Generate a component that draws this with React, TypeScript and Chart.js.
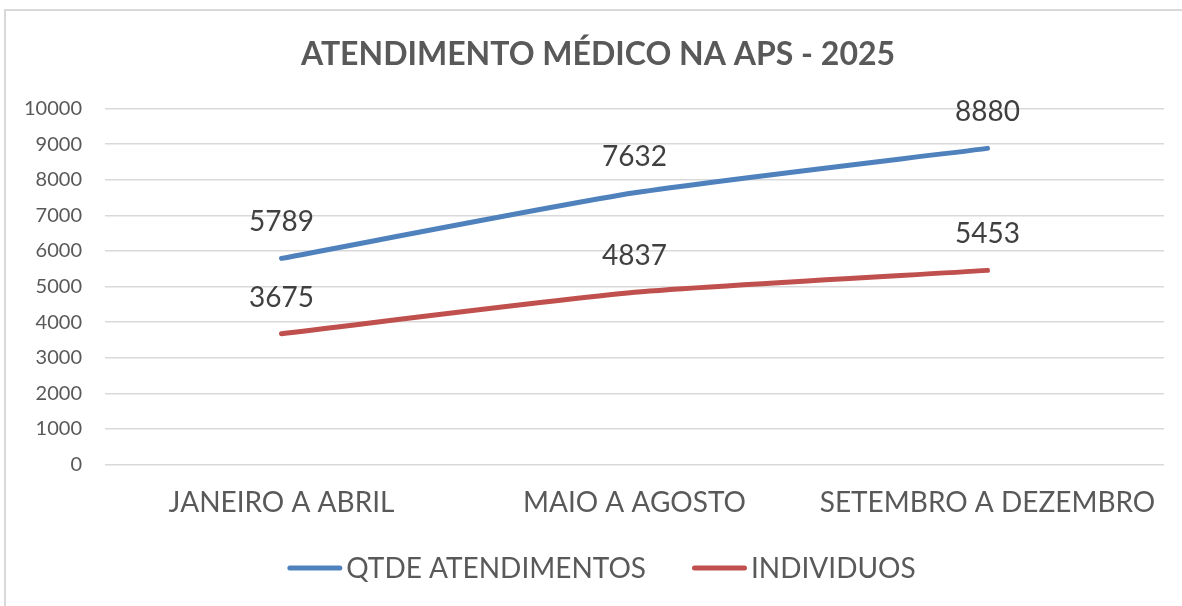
import React, { useEffect, useRef } from "react";
import { Chart, registerables } from "chart.js";

Chart.register(...registerables);

const title = "ATENDIMENTO MÉDICO NA APS - 2025";
const categories = ["JANEIRO A ABRIL", "MAIO A AGOSTO", "SETEMBRO A DEZEMBRO"];
const seriesNames = ["QTDE ATENDIMENTOS", "INDIVIDUOS"];
const atendimentos = [5789, 7632, 8880];
const individuos = [3675, 4837, 5453];
const yMin = 0;
const yMax = 10000;
const yStep = 1000;

const FONT = "Lato, 'Open Sans', 'Noto Sans', sans-serif";
const BLUE = "#4F81BD";
const RED = "#C0504D";
const TEXT = "#595959";
const GRID = "#D9D9D9";

const decorPlugin = {
  id: "decor",
  beforeDraw(chart: any) {
    const ctx = chart.ctx;
    ctx.save();
    ctx.fillStyle = "#ffffff";
    ctx.fillRect(0, 0, chart.width, chart.height);
    ctx.strokeStyle = GRID;
    ctx.lineWidth = 2;
    ctx.beginPath();
    ctx.moveTo(5, chart.height + 2);
    ctx.lineTo(5, 10);
    ctx.lineTo(chart.width + 2, 10);
    ctx.stroke();
    ctx.restore();
  },
  afterDatasetsDraw(chart: any) {
    const ctx = chart.ctx;
    ctx.save();
    ctx.font = `28px ${FONT}`;
    ctx.fillStyle = "#404040";
    ctx.textAlign = "center";
    ctx.textBaseline = "alphabetic";
    chart.data.datasets.forEach((ds: any, i: number) => {
      const meta = chart.getDatasetMeta(i);
      meta.data.forEach((pt: any, j: number) => {
        ctx.fillText(String(ds.data[j]), pt.x, pt.y - 27);
      });
    });
    ctx.restore();
  },
  afterDraw(chart: any) {
    const ctx = chart.ctx;
    ctx.save();
    // title
    ctx.font = `bold 32px ${FONT}`;
    ctx.fillStyle = TEXT;
    ctx.textAlign = "center";
    ctx.textBaseline = "alphabetic";
    ctx.fillText(title, 598, 65);
    // legend
    ctx.font = `28px ${FONT}`;
    const lineLen = 55;
    const gapText = 4;
    const gapItems = 46;
    const widths = chart.data.datasets.map((d: any) => ctx.measureText(d.label).width);
    const total = widths.reduce((a: number, w: number) => a + lineLen + gapText + w, 0) + gapItems * (widths.length - 1);
    let x = 601.5 - total / 2;
    const y = 568;
    chart.data.datasets.forEach((d: any, i: number) => {
      ctx.strokeStyle = d.borderColor;
      ctx.lineWidth = 5;
      ctx.lineCap = "round";
      ctx.beginPath();
      ctx.moveTo(x + 2.5, y);
      ctx.lineTo(x + lineLen - 2.5, y);
      ctx.stroke();
      ctx.fillStyle = TEXT;
      ctx.textAlign = "left";
      ctx.textBaseline = "middle";
      ctx.fillText(d.label, x + lineLen + gapText, y + 1);
      x += lineLen + gapText + widths[i] + gapItems;
    });
    ctx.restore();
  },
};

export default function App() {
  const ref = useRef<HTMLCanvasElement | null>(null);
  useEffect(() => {
    if (!ref.current) return;
    const chart = new Chart(ref.current, {
      type: "line",
      data: {
        labels: categories,
        datasets: [
          {
            label: seriesNames[0],
            data: atendimentos,
            borderColor: BLUE,
            backgroundColor: BLUE,
            borderWidth: 5,
            borderCapStyle: "round",
            pointRadius: 0,
            tension: 0.2,
          },
          {
            label: seriesNames[1],
            data: individuos,
            borderColor: RED,
            backgroundColor: RED,
            borderWidth: 5,
            borderCapStyle: "round",
            pointRadius: 0,
            tension: 0.2,
          },
        ],
      },
      options: {
        responsive: false,
        animation: false,
        layout: { padding: { top: 108.5, right: 18, bottom: 81.5, left: 0 } },
        plugins: {
          legend: { display: false },
          title: { display: false },
          tooltip: { enabled: false },
        },
        scales: {
          x: {
            offset: true,
            grid: { display: false, drawTicks: false },
            border: { display: false },
            ticks: {
              color: TEXT,
              font: { family: FONT, size: 28 },
              padding: 22,
              maxRotation: 0,
              autoSkip: false,
            },
            afterFit(s: any) {
              s.height = 60;
            },
          },
          y: {
            min: yMin,
            max: yMax,
            grid: { color: GRID, lineWidth: 1.5, drawTicks: false },
            border: { display: false },
            ticks: {
              stepSize: yStep,
              color: TEXT,
              font: { family: FONT, size: 20 },
              padding: 23,
              callback: (v: any) => String(v),
            },
            afterFit(s: any) {
              s.width = 105;
            },
          },
        },
      },
      plugins: [decorPlugin],
    } as any);
    return () => chart.destroy();
  }, []);
  return (
    <div style={{ position: "fixed", left: 0, top: 0, width: 1182, height: 606 }}>
      <canvas ref={ref} width={1182} height={606} style={{ display: "block" }} />
    </div>
  );
}
